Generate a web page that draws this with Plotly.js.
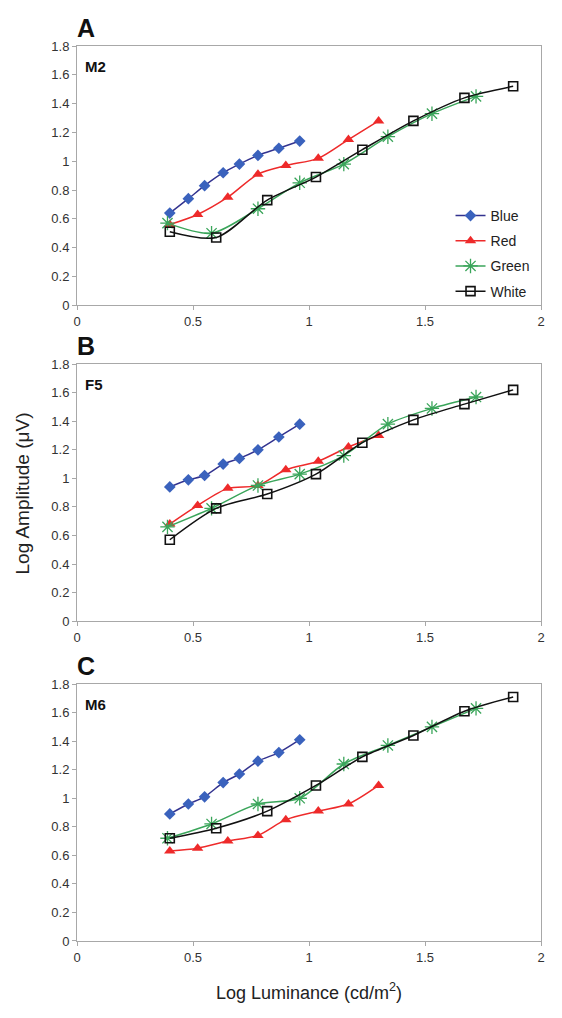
<!DOCTYPE html>
<html>
<head>
<meta charset="utf-8">
<script src="https://cdn.plot.ly/plotly-3.0.1.min.js"></script>
<style>html,body{margin:0;padding:0;background:#fff;}#chart{width:562px;height:1018px;}</style>
</head>
<body>
<div id="chart"></div>
<script>
// Shared luminance values (log cd/m^2) per stimulus colour
const xBlue  = [0.40, 0.48, 0.55, 0.63, 0.70, 0.78, 0.87, 0.96];
const xRed   = [0.40, 0.52, 0.65, 0.78, 0.90, 1.04, 1.17, 1.30];
const xGreen = [0.39, 0.58, 0.78, 0.96, 1.15, 1.34, 1.53, 1.72];
const xWhite = [0.40, 0.60, 0.82, 1.03, 1.23, 1.45, 1.67, 1.88];

// Panel A (M2)
const aBlue  = [0.64, 0.74, 0.83, 0.92, 0.98, 1.04, 1.09, 1.14];
const aRed   = [0.56, 0.63, 0.75, 0.91, 0.97, 1.02, 1.15, 1.28];
const aGreen = [0.57, 0.50, 0.67, 0.85, 0.98, 1.17, 1.33, 1.45];
const aWhite = [0.51, 0.47, 0.73, 0.89, 1.08, 1.28, 1.44, 1.52];

// Panel B (F5)
const bBlue  = [0.94, 0.99, 1.02, 1.10, 1.14, 1.20, 1.29, 1.38];
const bRed   = [0.68, 0.81, 0.93, 0.95, 1.06, 1.12, 1.22, 1.30];
const bGreen = [0.66, 0.79, 0.95, 1.03, 1.16, 1.38, 1.49, 1.57];
const bWhite = [0.57, 0.79, 0.89, 1.03, 1.25, 1.41, 1.52, 1.62];

// Panel C (M6)
const cBlue  = [0.89, 0.96, 1.01, 1.11, 1.17, 1.26, 1.32, 1.41];
const cRed   = [0.63, 0.65, 0.70, 0.74, 0.85, 0.91, 0.96, 1.09];
const cGreen = [0.72, 0.82, 0.96, 1.00, 1.24, 1.37, 1.50, 1.63];
const cWhite = [0.72, 0.79, 0.91, 1.09, 1.29, 1.44, 1.61, 1.71];

const seriesNames = ["Blue", "Red", "Green", "White"];
const panelLetters = ["A", "B", "C"];
const animalLabels = ["M2", "F5", "M6"];
const xTitle = "Log Luminance (cd/m<sup>2</sup>)";
const yTitle = "Log Amplitude (\u03bcV)";

const styles = {
  Blue:  {line: {color: "#33338f", width: 1.5, shape: "spline", smoothing: 0.8},
          marker: {symbol: "diamond", size: 9, color: "#3a62bd", line: {width: 0}}},
  Red:   {line: {color: "#ee2a2a", width: 1.5, shape: "spline", smoothing: 0.8},
          marker: {symbol: "triangle-up", size: 10, color: "#ee2a2a", line: {width: 0}}},
  Green: {line: {color: "#3aa55a", width: 1.5, shape: "spline", smoothing: 0.8},
          marker: {symbol: "asterisk-open", size: 12, color: "#3aa55a", line: {width: 1.3, color: "#3aa55a"}}},
  White: {line: {color: "#111111", width: 1.5, shape: "spline", smoothing: 0.8},
          marker: {symbol: "square-open", size: 9, color: "#111111", line: {width: 1.6, color: "#111111"}}}
};

const xs = {Blue: xBlue, Red: xRed, Green: xGreen, White: xWhite};
const panels = [
  {Blue: aBlue, Red: aRed, Green: aGreen, White: aWhite},
  {Blue: bBlue, Red: bRed, Green: bGreen, White: bWhite},
  {Blue: cBlue, Red: cRed, Green: cGreen, White: cWhite}
];

const traces = [];
panels.forEach((p, i) => {
  const sfx = i === 0 ? "" : String(i + 1);
  seriesNames.forEach((name, k) => {
    traces.push({
      type: "scatter", mode: "lines+markers",
      x: xs[name], y: p[name], name: name,
      xaxis: "x" + sfx, yaxis: "y" + sfx,
      showlegend: i === 0, legendgroup: name,
      line: styles[name].line, marker: styles[name].marker,
      hoverinfo: "skip"
    });
  });
});

const W = 562, H = 1018;
const mL = 77, mR = 21.3, mT = 45.7, mB = 77;
const plotH = H - mT - mB;
// pixel positions of each panel (top, bottom)
const pix = [[45.7, 305], [364, 621], [684, 941]];
const dom = pix.map(([t, b]) => [(H - mB - b) / plotH, (H - mB - t) / plotH]);

const axisCommon = {
  showline: true, mirror: true, linecolor: "#a8a8a8", linewidth: 1,
  ticks: "outside", ticklen: 4, tickcolor: "#a8a8a8", tickwidth: 1,
  showgrid: false, zeroline: false,
  tickfont: {family: "Liberation Sans, Arial, sans-serif", size: 13, color: "#333"}
};

const layout = {
  width: W, height: H,
  margin: {l: mL, r: mR, t: mT, b: mB},
  paper_bgcolor: "#fff", plot_bgcolor: "#fff",
  font: {family: "Liberation Sans, Arial, sans-serif", color: "#222"},
  showlegend: true,
  legend: {
    x: 0.805, y: 0.828, xanchor: "left", yanchor: "top",
    traceorder: "grouped", tracegroupgap: 4,
    font: {size: 14, color: "#222"}, bgcolor: "rgba(0,0,0,0)", borderwidth: 0,
    itemwidth: 30
  },
  annotations: [],
  hovermode: false
};

dom.forEach((d, i) => {
  const sfx = i === 0 ? "" : String(i + 1);
  layout["xaxis" + sfx] = Object.assign({}, axisCommon, {
    range: [0, 2], dtick: 0.5, tick0: 0, anchor: "y" + sfx, domain: [0, 1]
  });
  layout["yaxis" + sfx] = Object.assign({}, axisCommon, {
    range: [0, 1.8], dtick: 0.2, tick0: 0, anchor: "x" + sfx, domain: d
  });
  layout.annotations.push({
    text: "<b>" + panelLetters[i] + "</b>", xref: "paper", yref: "paper",
    x: -0.005, y: d[1], xanchor: "left", yanchor: "bottom", yshift: 2,
    showarrow: false, font: {size: 25, color: "#111"}
  });
  layout.annotations.push({
    text: "<b>" + animalLabels[i] + "</b>", xref: "paper", yref: "paper",
    x: 0.012, y: d[1], xanchor: "left", yanchor: "top", yshift: -10,
    showarrow: false, font: {size: 15, color: "#111"}
  });
});

layout.xaxis3.title = {text: xTitle, font: {size: 18, color: "#222"}, standoff: 22};
layout.annotations.push({
  text: yTitle, xref: "paper", yref: "paper", x: 0, xshift: -55, y: 0.5,
  textangle: -90, showarrow: false, xanchor: "center", yanchor: "middle",
  font: {size: 19, color: "#222"}
});

Plotly.newPlot("chart", traces, layout, {staticPlot: true, displayModeBar: false});
</script>
</body>
</html>
